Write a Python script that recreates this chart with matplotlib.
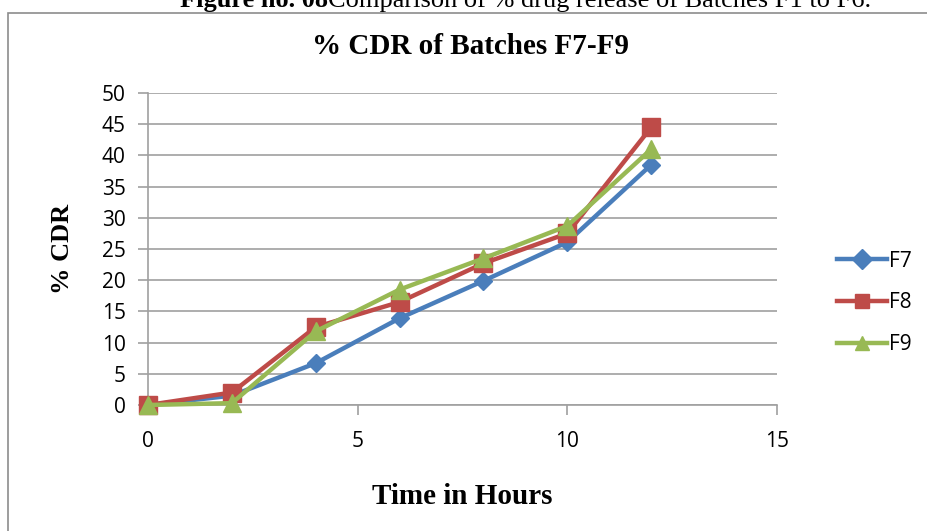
import matplotlib
matplotlib.use("Agg")
import matplotlib.pyplot as plt
from matplotlib.patches import Rectangle

time_h = [0, 2, 4, 6, 8, 10, 12]
f7 = [0, 1.5, 6.7, 13.9, 19.9, 26.1, 38.5]
f8 = [0, 2.0, 12.5, 16.5, 22.7, 27.5, 44.5]
f9 = [0, 0.3, 11.8, 18.5, 23.5, 28.7, 41.0]
series_names = ["F7", "F8", "F9"]
x_ticks = [0, 5, 10, 15]
y_ticks = list(range(0, 55, 5))

fig = plt.figure(figsize=(9.27, 5.31), dpi=100)
W, H = 927, 531
ax = fig.add_axes([148 / W, 1 - 405 / H, (777 - 148) / W, (405 - 93) / H])

colors = ["#4A7EBB", "#BE4B48", "#98B954"]
markers = ["D", "s", "^"]
msizes = [9, 13, 13]
for ys, name, c, m, ms in zip([f7, f8, f9], series_names, colors, markers, msizes):
    ax.plot(time_h, ys, color=c, lw=3.2, marker=m, ms=ms, label=name, clip_on=False, zorder=3)

ax.set_xlim(0, 15)
ax.set_ylim(0, 50)
ax.set_xticks(x_ticks)
ax.set_yticks(y_ticks)
ax.yaxis.grid(True, color="#A0A0A0", lw=1.2)
ax.set_axisbelow(True)
for s in ["top", "right"]:
    ax.spines[s].set_visible(False)
for s in ["left", "bottom"]:
    ax.spines[s].set_color("#A0A0A0")
    ax.spines[s].set_linewidth(1.2)
ax.tick_params(axis="both", colors="#A0A0A0", length=7, width=1.2, labelcolor="black",
               labelsize=15)
ax.tick_params(axis="x", pad=12)
ax.tick_params(axis="y", pad=9)
for lab in ax.get_xticklabels() + ax.get_yticklabels():
    lab.set_fontfamily("Open Sans")

ax.set_xlabel("Time in Hours", fontfamily="Liberation Serif", fontweight="bold",
              fontsize=21, labelpad=22)
ax.set_ylabel("% CDR", fontfamily="Liberation Serif", fontweight="bold",
              fontsize=19, labelpad=20)

fig.text(470 / W, 1 - 47 / H, "% CDR of Batches F7-F9", ha="center", va="center",
         fontfamily="Liberation Serif", fontweight="bold", fontsize=21)

leg = ax.legend(loc="center left", bbox_to_anchor=(818 / W, 1 - 303 / H),
                bbox_transform=fig.transFigure, frameon=False,
                handlelength=2.4, labelspacing=1.0, handletextpad=0.1,
                prop={"family": "Open Sans", "size": 15})
for lh in leg.legend_handles:
    lh.set_markersize(10)

# outer chart border
fig.patches.append(Rectangle((8 / W, -0.01), 1.0, 1 - 13 / H + 0.01,
                             transform=fig.transFigure, fill=False,
                             edgecolor="#8C8C8C", lw=1.2))

# partially cut caption at top (as in the source image)
t1 = fig.text(180 / W, 1 - 1 / H, "Figure no. 08", ha="left", va="center",
              fontfamily="Liberation Serif", fontweight="bold", fontsize=19)
fig.canvas.draw()
bb = t1.get_window_extent()
fig.text(bb.x1 / W, 1 - 1 / H, "Comparison of % drug release of Batches F1 to F6.",
         ha="left", va="center", fontfamily="Liberation Serif", fontsize=19)

fig.savefig("out.png", dpi=100)
